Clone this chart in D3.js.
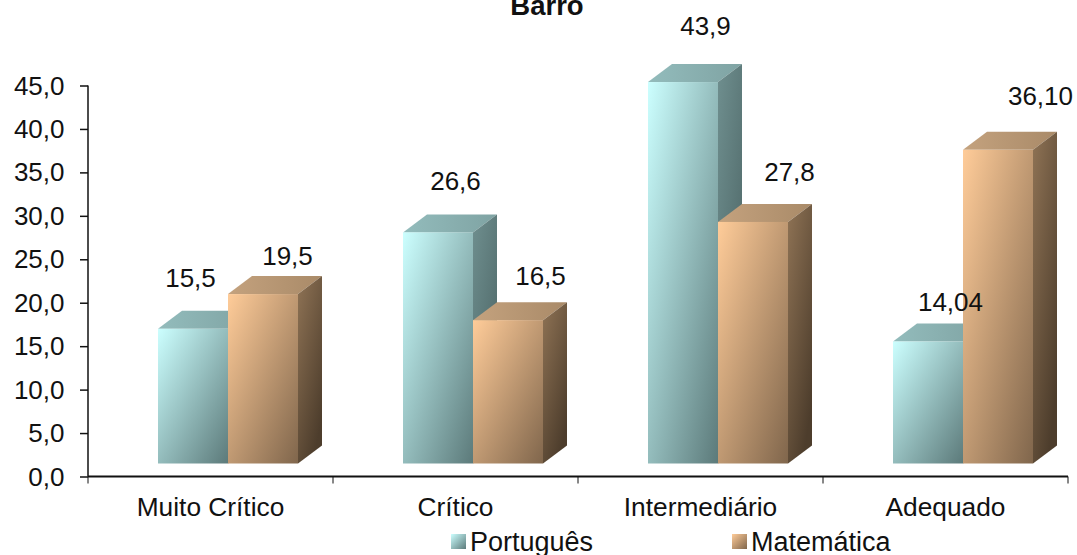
<!DOCTYPE html>
<html><head><meta charset="utf-8">
<script src="https://d3js.org/d3.v7.min.js"></script>
<style>html,body{margin:0;padding:0;background:#fff}svg{display:block}text{font-family:"Liberation Sans",Arial,sans-serif;fill:#111}</style>
</head><body><svg id="c" width="1077" height="555"></svg>
<script>
const categories=["Muito Crítico","Crítico","Intermediário","Adequado"];
const seriesNames=["Português","Matemática"];
const portugues=[15.5,26.6,43.9,14.04];
const matematica=[19.5,16.5,27.8,36.1];
const portuguesLabels=["15,5","26,6","43,9","14,04"];
const matematicaLabels=["19,5","16,5","27,8","36,10"];
const yTicks=[0,5,10,15,20,25,30,35,40,45];
const W=1077,H=555;
const svg=d3.select("#c");
const x=d3.scaleBand().domain(categories).range([88,1068]);
const y=d3.scaleLinear().domain([0,45]).range([476.5,85.5]);
const s=d3.scaleBand().domain(seriesNames).range([70,210]);
const depth={dx:24,dy:18},floor=13;
const defs=svg.append("defs");
const pal=[
 {id:"p",front:["#ccffff","#5c7a7a"],side:["#6f8f8f","#4c6565"],top:["#93bcbc","#7fa3a3"]},
 {id:"m",front:["#ffcc99","#80664c"],side:["#8f7355","#4d3d2c"],top:["#c4a27e","#a98a68"]}];
pal.forEach(c=>{
 [["front",0,0,1,1],["side",0,0,0.6,1],["top",0,0,1,0]].forEach(([k,a,b,d,e])=>{
  const g=defs.append("linearGradient").attr("id",c.id+k).attr("x1",a).attr("y1",b).attr("x2",d).attr("y2",e);
  g.append("stop").attr("offset",0).attr("stop-color",c[k][0]);
  g.append("stop").attr("offset",1).attr("stop-color",c[k][1]);
 });
});
svg.append("text").attr("x",547).attr("y",15).attr("text-anchor","middle").style("font-weight","bold").style("font-size","27.5px").text("Barro");
// axes
const ax=svg.append("g").attr("transform","translate(88,0)").call(d3.axisLeft(y).tickValues(yTicks).tickSize(8).tickPadding(15).tickFormat(d=>d3.format(".1f")(d).replace(".",",")));
ax.selectAll("text").style("font-size","26px").attr("dy","0.33em").attr("x",-23.5);
ax.selectAll("line").attr("stroke","#111").attr("stroke-width",1.5);
ax.select(".domain").remove();
svg.append("line").attr("x1",88).attr("x2",88).attr("y1",y(45)).attr("y2",y(0)).attr("stroke","#111").attr("stroke-width",1.5);
const bx=svg.append("g").attr("transform",`translate(0,${y(0)})`).call(d3.axisBottom(x).tickSize(0).tickPadding(21));
bx.select(".domain").remove();
bx.selectAll("text").style("font-size","26.3px");
svg.append("line").attr("x1",88).attr("x2",1068).attr("y1",y(0)).attr("y2",y(0)).attr("stroke","#111").attr("stroke-width",2);
svg.selectAll(".xt").data(d3.range(categories.length+1)).join("line").attr("class","xt")
 .attr("x1",i=>88+i*x.bandwidth()).attr("x2",i=>88+i*x.bandwidth()).attr("y1",y(0)).attr("y2",y(0)+7).attr("stroke","#111").attr("stroke-width",1);
// bars
const rows=[];
categories.forEach((c,i)=>{rows.push({c,si:0,v:portugues[i],l:portuguesLabels[i]});rows.push({c,si:1,v:matematica[i],l:matematicaLabels[i]});});
const bw=s.bandwidth();
const bars=svg.selectAll(".bar").data(rows).join("g").attr("class","bar");
bars.each(function(d){
 const g=d3.select(this),k=pal[d.si].id;
 const x0=x(d.c)+s(seriesNames[d.si]),x1=x0+bw,yt=y(d.v)-floor,yb=y(0)-floor;
 const path=p=>"M"+p.map(q=>q.join(",")).join("L")+"Z";
 g.append("path").attr("fill",`url(#${k}top)`).attr("d",path([[x0,yt],[x1,yt],[x1+depth.dx,yt-depth.dy],[x0+depth.dx,yt-depth.dy]]));
 g.append("path").attr("fill",`url(#${k}side)`).attr("d",path([[x1,yt],[x1+depth.dx,yt-depth.dy],[x1+depth.dx,yb-depth.dy],[x1,yb]]));
 g.append("rect").attr("x",x0).attr("y",yt).attr("width",bw).attr("height",yb-yt).attr("fill",`url(#${k}front)`);
});
// data labels
const labelShift=[[33,-41],[60,-28],[53,-41],[68,-34],[58,-46],[72,-40],[58,-30],[78,-44]];
svg.selectAll(".dl").data(rows).join("text").attr("class","dl").attr("text-anchor","middle").style("font-size","26px")
 .attr("x",(d,i)=>x(d.c)+s(seriesNames[d.si])+labelShift[i][0]-0.5)
 .attr("y",(d,i)=>y(d.v)-floor+labelShift[i][1]-1)
 .text(d=>d.l);
// legend
const lx=[451,732];
seriesNames.forEach((n,i)=>{
 const g=svg.append("g");
 g.append("rect").attr("x",lx[i]).attr("y",534).attr("width",15).attr("height",15).attr("fill",`url(#${pal[i].id}front)`);
 g.append("text").attr("x",lx[i]+19).attr("y",551).style("font-size","27px").text(n);
});
</script></body></html>
